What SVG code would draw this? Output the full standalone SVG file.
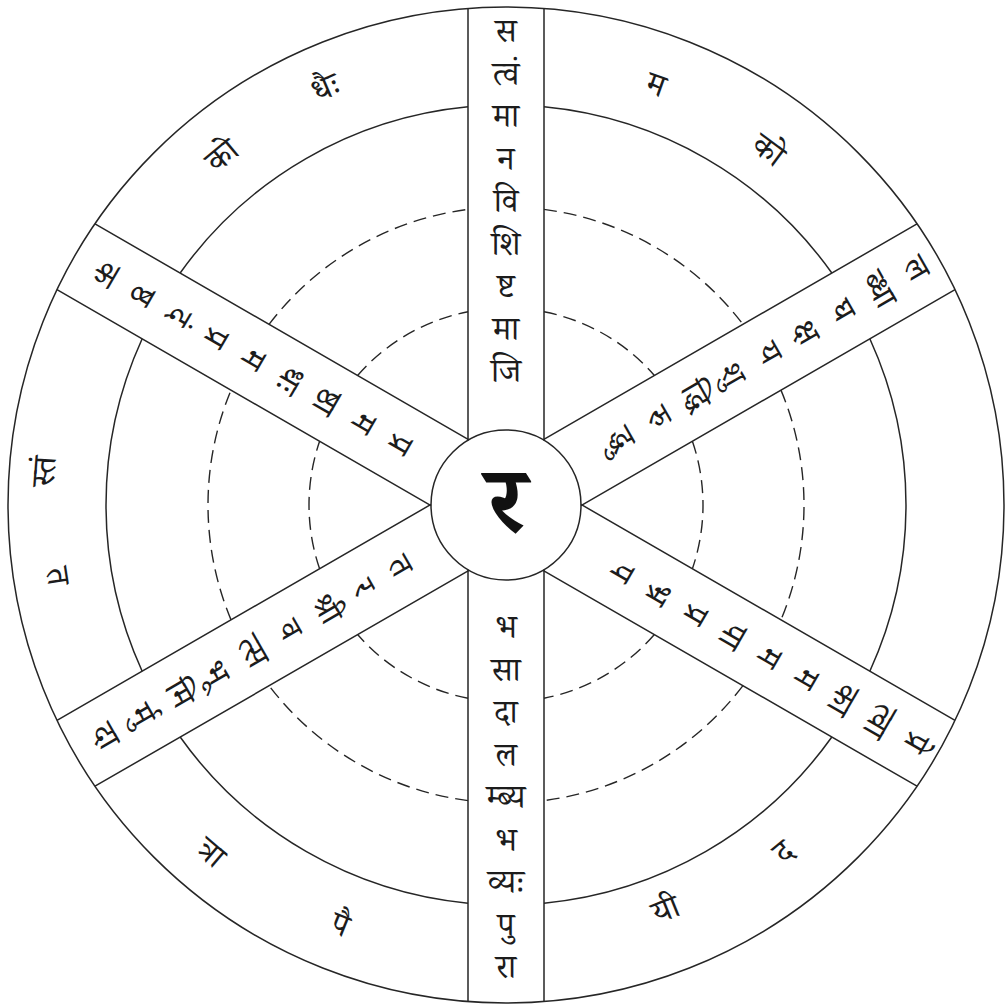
<svg xmlns="http://www.w3.org/2000/svg" width="1006" height="1008" viewBox="0 0 1006 1008">
<style>
.ln{fill:none;stroke:#262626;stroke-width:1.5}
.ds{fill:none;stroke:#262626;stroke-width:1.4;stroke-dasharray:13 7}
.t{font-family:'Noto Serif Devanagari','Noto Sans Devanagari','Lohit Devanagari','Noto Sans',sans-serif;font-size:33px;fill:#1c1c1c;text-anchor:middle;dominant-baseline:central}
.c{font-family:'Noto Serif Devanagari','Noto Sans Devanagari','Lohit Devanagari','Noto Sans',sans-serif;font-size:94px;font-weight:bold;fill:#111;text-anchor:middle;dominant-baseline:central}
</style>
<rect width="1006" height="1008" fill="#fff"/>
<g id="rings">
<circle class="ln" cx="506" cy="505" r="498"/>
<circle class="ln" cx="506" cy="505" r="75"/>
<path class="ln" d="M544 106.81A400 400 0 0 1 831.83 273M869.83 338.8A400 400 0 0 1 869.83 671.2M831.83 737A400 400 0 0 1 544 903.19M468 903.19A400 400 0 0 1 180.17 737M142.17 671.2A400 400 0 0 1 142.17 338.8M180.17 273A400 400 0 0 1 468 106.81"/>
<path class="ds" d="M544 209.43A298 298 0 0 1 742.96 324.31M780.96 390.11A298 298 0 0 1 780.96 619.89M742.96 685.69A298 298 0 0 1 544 800.57M468 800.57A298 298 0 0 1 269.04 685.69M231.04 619.89A298 298 0 0 1 231.04 390.11M269.04 324.31A298 298 0 0 1 468 209.43"/>
<path class="ds" d="M544 311.7A197 197 0 0 1 654.4 375.45M692.4 441.25A197 197 0 0 1 692.4 568.75M654.4 634.55A197 197 0 0 1 544 698.3M468 698.3A197 197 0 0 1 357.6 634.55M319.6 568.75A197 197 0 0 1 319.6 441.25M357.6 375.45A197 197 0 0 1 468 311.7"/>
</g>
<g id="connectors">
<path class="ln" d="M468 8.5V440.3M544 8.5V440.3M468 569.7V1001.5M544 569.7V1001.5"/>
<path class="ln" d="M581 505.6L955 289.7M469 570.3L95 786.2M543 439.8L917 223.9M431 504.4L57 720.4"/>
<path class="ln" d="M543 570.3L917 786.2M431 505.6L57 289.7M581 504.4L955 720.4M469 439.8L95 223.9"/>
</g>
<g id="hub"><text class="c" x="506" y="518">र</text></g>
<g id="spoke-top">
<text class="t" x="506" y="377">जि</text>
<text class="t" x="506" y="334.5">मा</text>
<text class="t" x="506" y="292">ष्ट</text>
<text class="t" x="506" y="249.5">शि</text>
<text class="t" x="506" y="207">वि</text>
<text class="t" x="506" y="164.5">न</text>
<text class="t" x="506" y="122">मा</text>
<text class="t" x="506" y="79.5">त्वं</text>
<text class="t" x="506" y="37">स</text>
</g>
<g id="spoke-bottom">
<text class="t" x="506" y="633">भ</text>
<text class="t" x="506" y="675.5">सा</text>
<text class="t" x="506" y="718">दा</text>
<text class="t" x="506" y="760.5">ल</text>
<text class="t" x="506" y="803">म्ब्य</text>
<text class="t" x="506" y="845.5">भ</text>
<text class="t" x="506" y="888">व्यः</text>
<text class="t" x="506" y="930.5">पु</text>
<text class="t" x="506" y="973">रा</text>
</g>
<g id="spoke-upper-right">
<text class="t" transform="translate(616.9 441) rotate(60)">द्धु</text>
<text class="t" transform="translate(653.7 419.8) rotate(60)">रु</text>
<text class="t" transform="translate(690.5 398.5) rotate(60)">द्धि</text>
<text class="t" transform="translate(727.3 377.3) rotate(60)">शु</text>
<text class="t" transform="translate(764.1 356) rotate(60)">य</text>
<text class="t" transform="translate(800.9 334.8) rotate(60)">क्ष</text>
<text class="t" transform="translate(837.7 313.5) rotate(60)">घ</text>
<text class="t" transform="translate(874.5 292.3) rotate(60)">ब्धा</text>
<text class="t" transform="translate(911.3 271) rotate(60)">ल</text>
</g>
<g id="spoke-lower-left">
<text class="t" transform="translate(395.1 569) rotate(60)">त</text>
<text class="t" transform="translate(358.3 590.3) rotate(60)">र</text>
<text class="t" transform="translate(321.5 611.5) rotate(60)">श्री</text>
<text class="t" transform="translate(284.7 632.8) rotate(60)">व</text>
<text class="t" transform="translate(247.9 654) rotate(60)">त्स</text>
<text class="t" transform="translate(211.1 675.3) rotate(60)">भू</text>
<text class="t" transform="translate(174.3 696.5) rotate(60)">मि</text>
<text class="t" transform="translate(137.5 717.8) rotate(60)">र्मु</text>
<text class="t" transform="translate(100.7 739) rotate(60)">दा</text>
</g>
<g id="spoke-lower-right">
<text class="t" transform="translate(616.9 569) rotate(120)">प</text>
<text class="t" transform="translate(653.7 590.3) rotate(120)">भ्र</text>
<text class="t" transform="translate(690.5 611.5) rotate(120)">प्र</text>
<text class="t" transform="translate(727.3 632.8) rotate(120)">पा</text>
<text class="t" transform="translate(764.1 654) rotate(120)">म</text>
<text class="t" transform="translate(800.9 675.3) rotate(120)">म</text>
<text class="t" transform="translate(837.7 696.5) rotate(120)">का</text>
<text class="t" transform="translate(874.5 717.8) rotate(120)">त्वा</text>
<text class="t" transform="translate(911.3 739) rotate(120)">प्रे</text>
</g>
<g id="spoke-upper-left">
<text class="t" transform="translate(395.1 441) rotate(120)">प्र</text>
<text class="t" transform="translate(358.3 419.8) rotate(120)">म</text>
<text class="t" transform="translate(321.5 398.5) rotate(120)">ष्ठा</text>
<text class="t" transform="translate(284.7 377.3) rotate(120)">धः</text>
<text class="t" transform="translate(247.9 356) rotate(120)">म</text>
<text class="t" transform="translate(211.1 334.8) rotate(120)">प्र</text>
<text class="t" transform="translate(174.3 313.5) rotate(120)">दं</text>
<text class="t" transform="translate(137.5 292.3) rotate(120)">ष्ठ</text>
<text class="t" transform="translate(100.7 271) rotate(120)">क</text>
</g>
<g id="rim">
<text class="t" transform="translate(654 90) rotate(19.6)">म</text>
<text class="t" transform="translate(765 155) rotate(36.5)">को</text>
<text class="t" transform="translate(787 856) rotate(-39.6)">द</text>
<text class="t" transform="translate(668 915) rotate(-22)">यी</text>
<text class="t" transform="translate(338 930) rotate(21.8)">पै</text>
<text class="t" transform="translate(207 857) rotate(40.4)">त्रा</text>
<text class="t" transform="translate(52 577) rotate(81.3)">त</text>
<text class="t" transform="translate(50 472) rotate(-85.8)">स्तं</text>
<text class="t" transform="translate(226 160) rotate(-39.9)">को</text>
<text class="t" transform="translate(328 93) rotate(-23.3)">धैः</text>
</g>
</svg>
